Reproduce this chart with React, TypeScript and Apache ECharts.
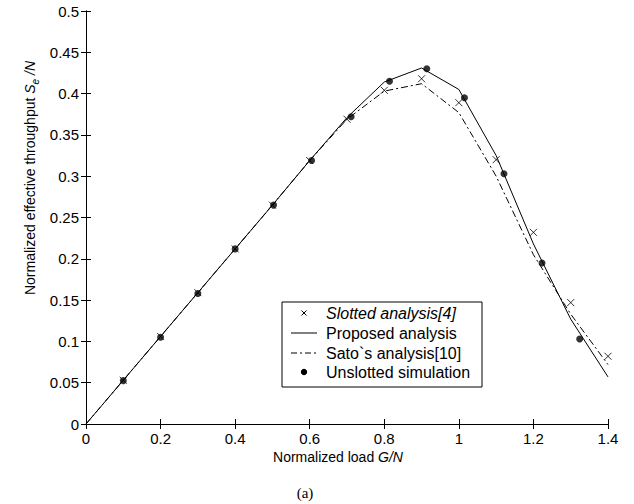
import React, { useEffect, useRef } from "react";
import * as echarts from "echarts";

// Normalized load grid for analytical curves
const loadGrid = [0, 0.1, 0.2, 0.3, 0.4, 0.5, 0.6, 0.7, 0.8, 0.9, 1.0, 1.1, 1.2, 1.3, 1.4];
const proposed = [0, 0.053, 0.106, 0.159, 0.212, 0.265, 0.319, 0.371, 0.414, 0.431, 0.405, 0.325, 0.218, 0.127, 0.057];
const sato = [0, 0.053, 0.106, 0.159, 0.212, 0.265, 0.319, 0.369, 0.403, 0.412, 0.377, 0.300, 0.205, 0.133, 0.072];

// Slotted analysis [4] markers
const slottedX = [0.1, 0.2, 0.3, 0.4, 0.5, 0.6, 0.7, 0.8, 0.9, 1.0, 1.1, 1.2, 1.3, 1.4];
const slottedY = [0.053, 0.106, 0.159, 0.212, 0.265, 0.319, 0.369, 0.404, 0.418, 0.389, 0.320, 0.232, 0.147, 0.082];

// Unslotted simulation
const simX = [0.1, 0.2, 0.3, 0.4, 0.503, 0.605, 0.711, 0.814, 0.914, 1.015, 1.121, 1.223, 1.324];
const simY = [0.0525, 0.105, 0.158, 0.212, 0.265, 0.319, 0.372, 0.415, 0.430, 0.395, 0.303, 0.195, 0.103];

const seriesNames = ["Slotted analysis[4]", "Proposed analysis", "Sato`s analysis[10]", "Unslotted simulation"];
const xTitle = ["Normalized load ", "G/N"];
const yTitle = ["Normalized effective throughput ", "S", "e", " /N"];
const caption = "(a)";

const FONT = "'Liberation Sans', Arial, Helvetica, sans-serif";

export default function App() {
  const ref = useRef<HTMLDivElement>(null);
  useEffect(() => {
    if (!ref.current) return;
    const chart = echarts.init(ref.current, undefined, { renderer: "svg" });
    const axisCommon = {
      type: "value" as const,
      axisLine: { show: true, lineStyle: { color: "#000", width: 1 } },
      axisTick: { show: true, inside: true, length: 5, lineStyle: { color: "#000" } },
      splitLine: { show: false },
    };
    const legendX = 282, legendY = 302, legendW = 200, legendH = 85;
    const rowY = [313, 333, 353, 372];
    const markX = 304;
    const textX = 326;
    const textStyleBase = { fill: "#000", fontFamily: FONT, fontSize: 16, verticalAlign: "middle" as const, align: "left" as const };

    chart.setOption({
      animation: false,
      backgroundColor: "#fff",
      grid: { left: 86, top: 11, width: 522, height: 413 },
      xAxis: [
        {
          ...axisCommon,
          min: 0, max: 1.4, interval: 0.2,
          position: "bottom",
          axisLabel: { color: "#000", fontFamily: FONT, fontSize: 15, margin: 7 },
        },
        {
          ...axisCommon,
          min: 0, max: 1.4, interval: 0.2,
          position: "top",
          axisLabel: { show: false },
        },
      ],
      yAxis: [
        {
          ...axisCommon,
          min: 0, max: 0.5, interval: 0.05,
          position: "left",
          axisLabel: { color: "#000", fontFamily: FONT, fontSize: 15, margin: 7 },
        },
        {
          ...axisCommon,
          min: 0, max: 0.5, interval: 0.05,
          position: "right",
          axisLabel: { show: false },
        },
      ],
      series: [
        {
          name: seriesNames[1],
          type: "line",
          data: loadGrid.map((x, i) => [x, proposed[i]]),
          showSymbol: false,
          lineStyle: { color: "#000", width: 1 },
          z: 2,
        },
        {
          name: seriesNames[2],
          type: "line",
          data: loadGrid.map((x, i) => [x, sato[i]]),
          showSymbol: false,
          lineStyle: { color: "#000", width: 1, type: [7, 3, 2, 3] },
          z: 2,
        },
        {
          name: seriesNames[0],
          type: "scatter",
          data: slottedX.map((x, i) => [x, slottedY[i]]),
          symbol: "path://M0,0L1,1M1,0L0,1",
          symbolSize: 7,
          itemStyle: { color: "none", borderColor: "#000", borderWidth: 1 },
          z: 3,
        },
        {
          name: seriesNames[3],
          type: "scatter",
          data: simX.map((x, i) => [x, simY[i]]),
          symbol: "circle",
          symbolSize: 7,
          itemStyle: { color: "#000" },
          z: 4,
        },
      ],
      graphic: [
        {
          type: "text",
          x: 338, y: 457,
          style: {
            text: `{n|${xTitle[0]}}{i|${xTitle[1]}}`,
            align: "center", verticalAlign: "middle",
            rich: {
              n: { fontFamily: FONT, fontSize: 14, fill: "#000" },
              i: { fontFamily: FONT, fontSize: 14, fontStyle: "italic", fill: "#000" },
            },
          },
        },
        {
          type: "text",
          x: 30, y: 178,
          rotation: Math.PI / 2,
          style: {
            text: `{n|${yTitle[0]}}{i|${yTitle[1]}}{s|${yTitle[2]}}{i|${yTitle[3]}}`,
            align: "center", verticalAlign: "middle",
            rich: {
              n: { fontFamily: FONT, fontSize: 14, fill: "#000", lineHeight: 20, verticalAlign: "middle" },
              i: { fontFamily: FONT, fontSize: 14, fontStyle: "italic", fill: "#000", lineHeight: 20, verticalAlign: "middle" },
              s: { fontFamily: FONT, fontSize: 10, fontStyle: "italic", fill: "#000", lineHeight: 20, verticalAlign: "bottom" },
            },
          },
        },
        {
          type: "text",
          x: 305, y: 493,
          style: { text: caption, fontFamily: "'Liberation Serif', 'Times New Roman', serif", fontSize: 15, fill: "#000", align: "center", verticalAlign: "middle" },
        },
        {
          type: "group",
          z: 100,
          children: [
            { type: "rect", shape: { x: legendX, y: legendY, width: legendW, height: legendH }, style: { fill: "#fff", stroke: "#000", lineWidth: 1 } },
            { type: "line", shape: { x1: markX - 2.5, y1: rowY[0] - 2.5, x2: markX + 2.5, y2: rowY[0] + 2.5 }, style: { stroke: "#000", lineWidth: 1 } },
            { type: "line", shape: { x1: markX - 2.5, y1: rowY[0] + 2.5, x2: markX + 2.5, y2: rowY[0] - 2.5 }, style: { stroke: "#000", lineWidth: 1 } },
            { type: "text", x: textX, y: rowY[0], style: { ...textStyleBase, text: seriesNames[0], fontStyle: "italic" } },
            { type: "line", shape: { x1: 291, y1: rowY[1], x2: 317, y2: rowY[1] }, style: { stroke: "#000", lineWidth: 1 } },
            { type: "text", x: textX, y: rowY[1], style: { ...textStyleBase, text: seriesNames[1] } },
            { type: "line", shape: { x1: 291, y1: rowY[2], x2: 317, y2: rowY[2] }, style: { stroke: "#000", lineWidth: 1, lineDash: [6, 3, 2, 3] } },
            { type: "text", x: textX, y: rowY[2], style: { ...textStyleBase, text: seriesNames[2] } },
            { type: "circle", shape: { cx: markX, cy: rowY[3], r: 3.2 }, style: { fill: "#000" } },
            { type: "text", x: textX, y: rowY[3], style: { ...textStyleBase, text: seriesNames[3] } },
          ],
        },
      ],
    });
    return () => chart.dispose();
  }, []);
  return <div ref={ref} style={{ position: "fixed", left: 0, top: 0, width: 634, height: 504 }} />;
}
